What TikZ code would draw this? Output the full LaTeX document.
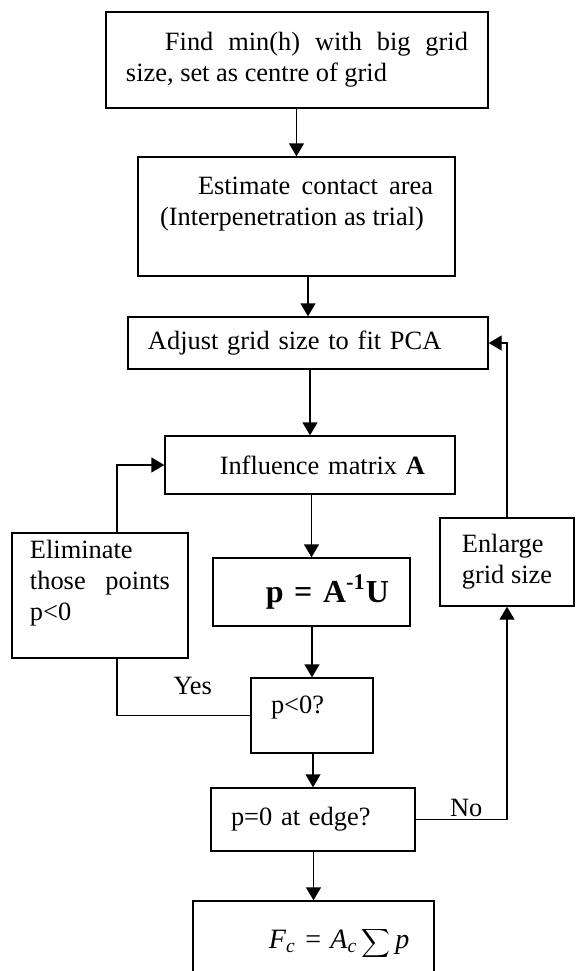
\documentclass[tikz,border=0pt]{standalone}
\usepackage{fontspec}
\setmainfont{Liberation Serif}
\usetikzlibrary{arrows.meta}

\tikzset{
    box/.style={draw, line width=0.7pt, inner sep=0pt, font=\fontsize{13.2}{15.5}\selectfont},
    arrow/.style={line width=0.7pt, -{Triangle[length=6.5pt, width=7.5pt]}},
    link/.style={line width=0.7pt},
    lbl/.style={inner sep=1pt, font=\fontsize{13.2}{15.5}\selectfont}
}

\begin{document}
\begin{tikzpicture}[x=0.5pt, y=-0.5pt]
    \useasboundingbox (0,0) rectangle (575,971);

    % === Main column ===
    \node[box, minimum width=191pt, minimum height=48pt, text width=171pt, align=justify] (find) at (297,60)
        {\hspace*{19.5pt}Find min(h) with big grid size, set as centre of grid};
    \node[box, minimum width=158.5pt, minimum height=59.5pt, text width=136.5pt, align=justify] (estimate) at (296.5,216.5)
        {\hspace*{19pt}Estimate contact area (Interpenetration as trial)\par\mbox{}};
    \node[box, minimum width=180pt, minimum height=26pt, text width=160pt, align=left] (adjust) at (308,343)
        {Adjust grid size to fit PCA};
    \node[box, minimum width=145pt, minimum height=29pt, text width=115pt, align=right] (infl) at (310,465)
        {Influence matrix \textbf{A}};
    \node[box, minimum width=98.5pt, minimum height=34pt, text width=77.5pt, align=right,
          font=\fontsize{16}{19}\selectfont\bfseries] (solve) at (311.5,592)
        {p = A\textsuperscript{-1}U};
    \node[box, minimum width=61pt, minimum height=37.5pt, text width=41pt, align=left, text depth=11pt] (check) at (312,715.5)
        {p<0?};
    \node[box, minimum width=102pt, minimum height=31.5pt, text width=82pt, align=left] (edge) at (313,819.5)
        {p=0 at edge?};
    \node[box, minimum width=120.5pt, minimum height=42pt, text width=96pt, align=right,
          font=\fontsize{14}{17}\selectfont] (force) at (313.5,943)
        {\textit{F}\textsubscript{\textit{c}} = \textit{A}\textsubscript{\textit{c}}\,{\fontsize{11}{13}\selectfont$\displaystyle\sum$}\,\textit{p}};

    % === Side boxes ===
    \node[box, minimum width=88pt, minimum height=62.5pt, text width=70pt, align=justify] (elim) at (100,595.5)
        {Eliminate those points p<0\par\mbox{}};
    \node[box, minimum width=67pt, minimum height=44pt, align=left] (enlarge) at (507,562)
        {Enlarge\\grid size};

    % Arrows down the main column
    \draw[arrow] (find.south -| estimate.north) -- (estimate.north);
    \draw[arrow] (estimate.south -| adjust.north) -- (adjust.north);
    \draw[arrow] (adjust.south -| infl.north) -- (infl.north);
    \draw[arrow] (infl.south -| solve.north) -- (solve.north);
    \draw[arrow] (solve.south -| check.north) -- (check.north);
    \draw[arrow] (check.south -| edge.north) -- (edge.north);
    \draw[arrow] (edge.south -| force.north) -- (force.north);

    % Loop for p<0
    \draw[link] (check.west) -| node[lbl, pos=0.216, above=9pt] (yes) {Yes} ([xshift=8.5pt]elim.south);
    \draw[arrow] ([xshift=8.5pt]elim.north) |- (infl.west);

    % Loop for the grid size
    \draw[arrow] (edge.east) -| node[lbl, pos=0.277, above] (no) {No} (enlarge.south);
    \draw[arrow] (enlarge.north) |- (adjust.east);

\end{tikzpicture}
\end{document}
